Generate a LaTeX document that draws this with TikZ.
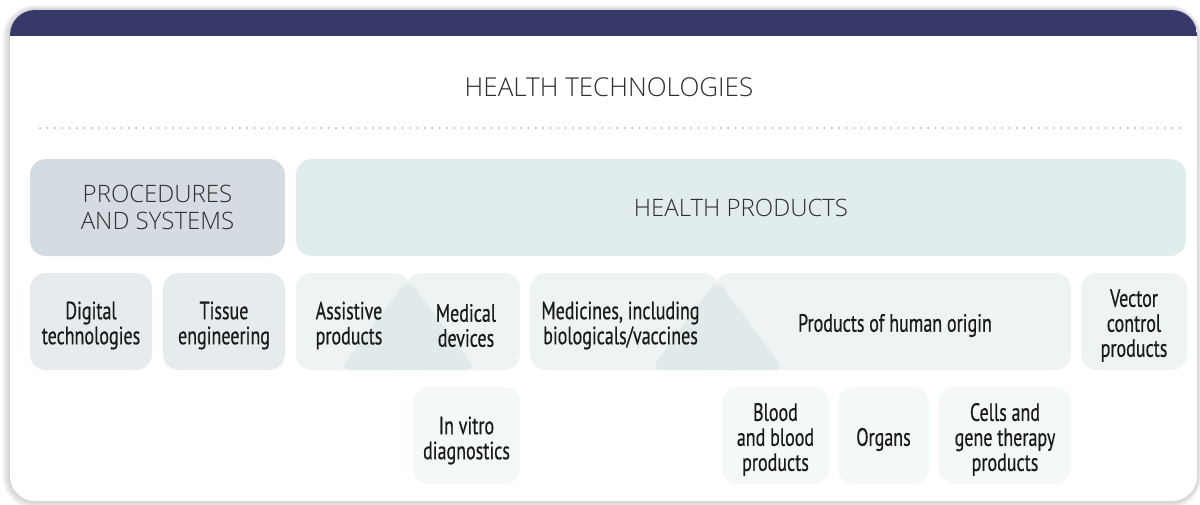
\documentclass[tikz,border=0pt]{standalone}
\usepackage{fontspec}
\setmainfont{PT Sans}
\newfontfamily\condfont{PT Sans}[FakeStretch=0.72, FakeBold=0.5]
\newfontfamily\lightfont{Open Sans Light}
\definecolor{navy}{HTML}{37396B}
\definecolor{procfill}{HTML}{D4DCE1}
\definecolor{hpfill}{HTML}{E1ECEC}
\definecolor{greyfill}{HTML}{E6ECEE}
\definecolor{midfill}{HTML}{EEF3F3}
\definecolor{trifill}{HTML}{E0EAEA}
\definecolor{palefill}{HTML}{F4F8F8}
\definecolor{dotgrey}{HTML}{B4B4B4}
\definecolor{ink}{HTML}{1A1A1A}
\definecolor{capink}{HTML}{2E2E2E}
\begin{document}
\begin{tikzpicture}[x=0.5pt,y=-0.5pt,
  box/.style={rounded corners=8pt, inner sep=0pt, minimum height=48.5pt},
  lbl/.style={font=\condfont\fontsize{12.5}{12.5}\selectfont, align=center, text=ink, inner sep=0pt},
  headtxt/.style={font=\lightfont\fontsize{12}{13.5}\selectfont, align=center, text=capink, inner sep=0pt}]
\useasboundingbox (0,0) rectangle (1200,504);

% soft shadow around the card
\foreach \s in {1,...,8}{
  \fill[black, opacity=0.022, rounded corners=12.5pt+\s*0.5pt]
    (10-\s,10-\s*0.6) rectangle (1197+\s*0.6,501+\s);
}
% card with its navy header band
\fill[white, rounded corners=12.5pt] (10,10) rectangle (1197,501);
\begin{scope}
  \clip[rounded corners=12.5pt] (10,10) rectangle (1197,501);
  \fill[navy] (10,10) rectangle (1197,36);
\end{scope}

% title and dotted rule
\node[headtxt, font=\lightfont\fontsize{13}{13.5}\selectfont] (title) at (609,87) {HEALTH TECHNOLOGIES};
\coordinate (ruleL) at (40,128);
\coordinate (ruleR) at (1185,128);
\draw[dotgrey, line width=1pt, line cap=round, dash pattern=on 0pt off 3.7pt] (ruleL) -- (ruleR);

% top row
\node[box, headtxt, fill=procfill, minimum width=127.5pt] (proc) at (157.5,207.5) {PROCEDURES\\AND SYSTEMS};
\node[box, headtxt, fill=hpfill, minimum width=445pt] (hp) at (741,207.5) {HEALTH PRODUCTS};

% second row
\node[box, fill=greyfill, minimum width=61pt] (dig) at (91,321.5) {};
\node[box, fill=greyfill, minimum width=61pt] (tis) at (224,321.5) {};
\node[box, fill=midfill, minimum width=53pt] (vec) at (1134,321.5) {};

% assistive products / medical devices pair with their overlap
\node[box, fill=midfill, minimum width=57pt] (asst) at (353,321.5) {};
\node[box, fill=midfill, minimum width=57pt] (med) at (463,321.5) {};
\fill[trifill, rounded corners=5pt] (408,279) -- (476,370) -- (340,370) -- cycle;

% medicines / products of human origin pair with their overlap
\node[box, fill=midfill, minimum width=94.5pt] (medic) at (624.5,321.5) {};
\node[box, fill=midfill, minimum width=178pt] (poh) at (893,321.5) {};
\fill[trifill, rounded corners=5pt] (717,279) -- (784,370) -- (651,370) -- cycle;

% third row
\node[box, fill=palefill, minimum width=53.5pt] (ivd) at (466.5,435.5) {};
\node[box, fill=palefill, minimum width=53.5pt] (blood) at (775.5,435.5) {};
\node[box, fill=palefill, minimum width=45.5pt] (org) at (883.5,435.5) {};
\node[box, fill=palefill, minimum width=66pt] (cells) at (1005,435.5) {};

% labels
\node[lbl] (digtxt) at ([yshift=-2pt]dig.center) {Digital\\technologies};
\node[lbl] (tistxt) at ([yshift=-2pt]tis.center) {Tissue\\engineering};
\node[lbl, align=left] (assttxt) at ([xshift=-2pt,yshift=-2pt]asst.center) {Assistive\\products};
\node[lbl] (medtxt) at ([xshift=1.5pt,yshift=-2pt]med.center) {Medical\\devices};
\node[lbl] (medictxt) at ([xshift=-2pt,yshift=-2pt]medic.center) {Medicines, including\\biologicals/vaccines};
\node[lbl] (pohtxt) at ([xshift=1pt,yshift=-2pt]poh.center) {Products of human origin};
\node[lbl] (vectxt) at ([yshift=-2pt]vec.center) {Vector\\control\\products};
\node[lbl] (ivdtxt) at ([yshift=-2.5pt]ivd.center) {In vitro\\diagnostics};
\node[lbl] (bloodtxt) at ([yshift=-2pt]blood.center) {Blood\\and blood\\products};
\node[lbl] (orgtxt) at ([yshift=-2pt]org.center) {Organs};
\node[lbl] (cellstxt) at ([yshift=-2pt]cells.center) {Cells and\\gene therapy\\products};
\end{tikzpicture}
\end{document}
